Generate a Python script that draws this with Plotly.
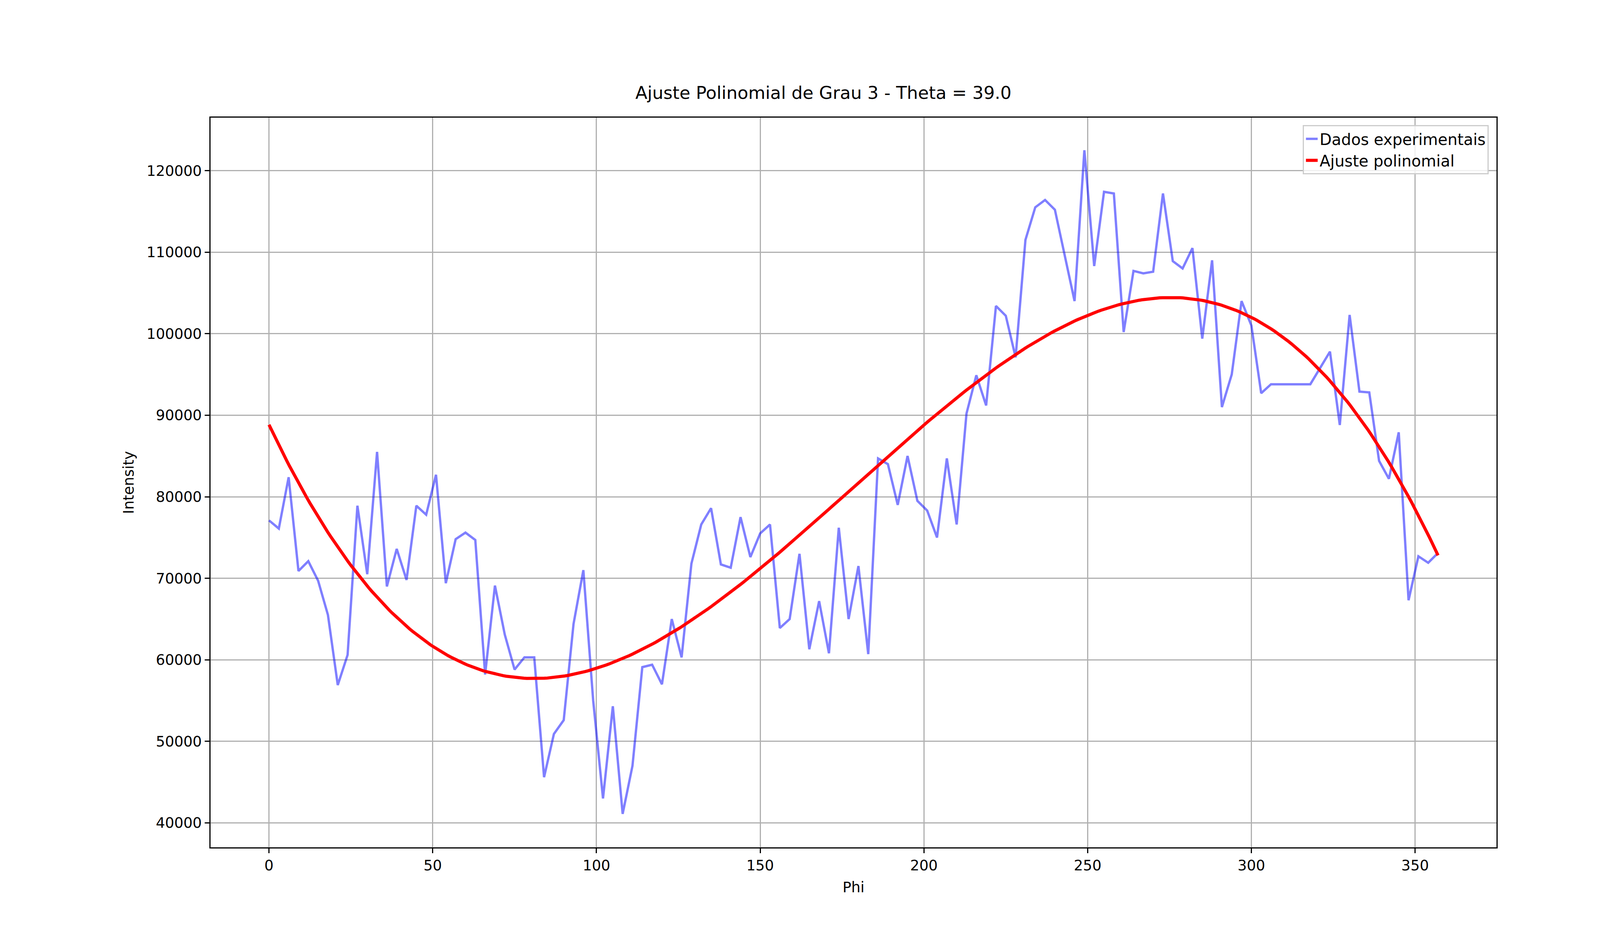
import numpy as np
import plotly.graph_objects as go

# angulo phi (graus) e intensidade medida
phi = list(range(0, 360, 3))
intensity = [
    77100, 76100, 82400, 70900, 72100, 69700, 65500, 56900, 60600, 78900,
    70500, 85500, 69000, 73600, 69800, 78900, 77800, 82700, 69400, 74800,
    75600, 74700, 58200, 69100, 63100, 58800, 60300, 60300, 45600, 50900,
    52600, 64400, 71000, 55000, 43000, 54300, 41100, 47000, 59100, 59400,
    57000, 65000, 60300, 71800, 76600, 78600, 71700, 71300, 77500, 72600,
    75500, 76600, 63900, 65000, 73000, 61300, 67200, 60800, 76200, 65000,
    71500, 60700, 84700, 84000, 79000, 85000, 79500, 78300, 75000, 84700,
    76600, 90200, 94900, 91200, 103400, 102200, 97100, 111500, 115500, 116400,
    115200, 109700, 104000, 122500, 108300, 117400, 117200, 100200, 107700, 107400,
    107600, 117200, 108900, 108000, 110500, 99400, 109000, 91000, 95000, 104000,
    101000, 92700, 93800, 93800, 93800, 93800, 93800, 95800, 97800, 88800,
    102300, 92900, 92800, 84400, 82200, 87900, 67300, 72700, 71900, 73100,
]

# ajuste polinomial de grau 3
coef = np.polyfit(phi, intensity, 3)
phi_fit = np.linspace(phi[0], phi[-1], 400)
int_fit = np.polyval(coef, phi_fit)

fig = go.Figure()
fig.add_trace(go.Scatter(x=phi, y=intensity, mode='lines', name='Dados experimentais',
                         line=dict(color='rgba(0,0,255,0.5)', width=6)))
fig.add_trace(go.Scatter(x=phi_fit, y=int_fit, mode='lines', name='Ajuste polinomial',
                         line=dict(color='red', width=8)))

axis = dict(showline=True, linecolor='black', linewidth=3, mirror=True,
            ticks='outside', ticklen=12, tickwidth=3, tickcolor='black',
            showgrid=True, gridcolor='#b0b0b0', gridwidth=3, zeroline=False,
            tickfont=dict(size=37, color='black'))

fig.update_layout(
    width=4200, height=2400,
    paper_bgcolor='white', plot_bgcolor='white',
    font=dict(family='DejaVu Sans', color='black'),
    margin=dict(l=531, r=377, t=293, b=240),
    title=dict(text='Ajuste Polinomial de Grau 3 - Theta = 39.0', x=0.5, xanchor='center',
               y=1 - 245 / 2400, yanchor='bottom', font=dict(size=45)),
    xaxis=dict(axis, range=[-17.85, 374.85], tickvals=[0, 50, 100, 150, 200, 250, 300, 350],
               title=dict(text='Phi', font=dict(size=37), standoff=22)),
    yaxis=dict(axis, range=[37000, 126500], dtick=10000, tickformat='d',
               title=dict(text='Intensity', font=dict(size=37), standoff=22)),
    legend=dict(x=0.994, y=0.99, xanchor='right', yanchor='top', bgcolor='rgba(255,255,255,0.8)',
                bordercolor='#cccccc', borderwidth=3, font=dict(size=40)),
)

fig.write_html("out.html")
